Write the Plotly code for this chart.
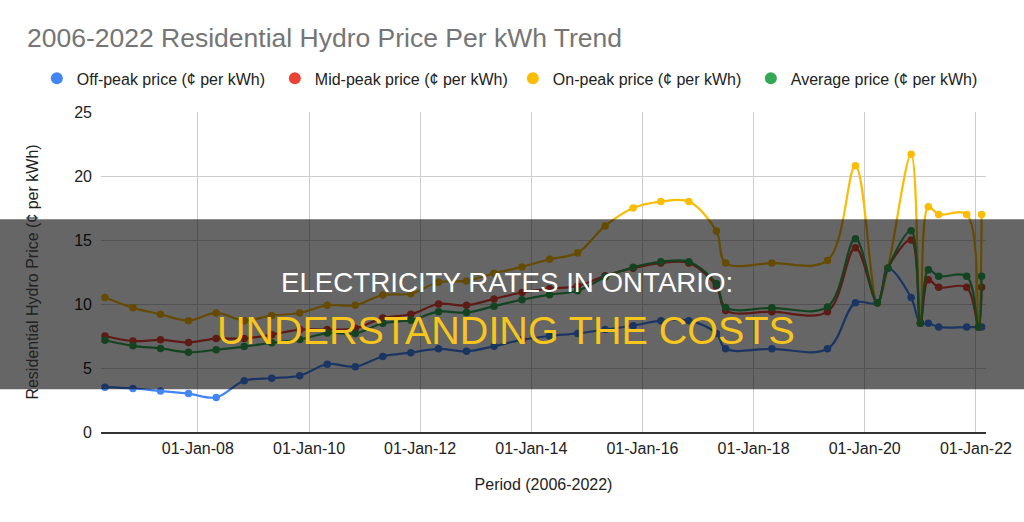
import plotly.graph_objects as go

dates = ["2006-05-01", "2006-11-01", "2007-05-01", "2007-11-01", "2008-05-01", "2008-11-01",
         "2009-05-01", "2009-11-01", "2010-05-01", "2010-11-01", "2011-05-01", "2011-11-01",
         "2012-05-01", "2012-11-01", "2013-05-01", "2013-11-01", "2014-05-01", "2014-11-01",
         "2015-05-01", "2015-11-01", "2016-05-01", "2016-11-01", "2017-05-01", "2017-07-01",
         "2018-05-01", "2019-05-01", "2019-11-01", "2020-03-24", "2020-06-01", "2020-11-01",
         "2021-01-01", "2021-02-22", "2021-05-01", "2021-11-01", "2022-01-18", "2022-02-07"]

off_peak = [3.5, 3.4, 3.2, 3.0, 2.7, 4.0, 4.2, 4.4, 5.3, 5.1, 5.9, 6.2,
            6.5, 6.3, 6.7, 7.2, 7.5, 7.7, 8.0, 8.3, 8.7, 8.7, 7.7, 6.5,
            6.5, 6.5, 10.1, 10.1, 12.8, 10.5, 8.5, 8.5, 8.2, 8.2, 8.2, 8.2]
mid_peak = [7.5, 7.1, 7.2, 7.0, 7.3, 7.3, 7.6, 8.0, 8.0, 8.1, 8.9, 9.2,
            10.0, 9.9, 10.4, 10.9, 11.2, 11.4, 12.2, 12.8, 13.2, 13.2, 11.4, 9.5,
            9.4, 9.4, 14.4, 10.1, 12.8, 15.0, 8.5, 11.9, 11.3, 11.3, 8.2, 11.3]
on_peak = [10.5, 9.7, 9.2, 8.7, 9.3, 8.7, 9.1, 9.3, 9.9, 9.9, 10.7, 10.8,
           11.7, 11.8, 12.4, 12.9, 13.5, 14.0, 16.1, 17.5, 18.0, 18.0, 15.7, 13.2,
           13.2, 13.4, 20.8, 10.1, 12.8, 21.7, 8.5, 17.6, 17.0, 17.0, 8.2, 17.0]
average = [7.17, 6.73, 6.53, 6.23, 6.43, 6.67, 6.97, 7.23, 7.73, 7.70, 8.50, 8.73,
           9.40, 9.33, 9.83, 10.33, 10.73, 11.03, 12.10, 12.87, 13.30, 13.30, 11.60, 9.73,
           9.70, 9.77, 15.10, 10.10, 12.80, 15.73, 8.50, 12.67, 12.17, 12.17, 8.20, 12.17]

series_names = ["Off-peak price (¢ per kWh)", "Mid-peak price (¢ per kWh)",
                "On-peak price (¢ per kWh)", "Average price (¢ per kWh)"]
series_values = [off_peak, mid_peak, on_peak, average]
colors = ["#4285F4", "#EA4335", "#FBBC04", "#34A853"]

title_text = "2006-2022 Residential Hydro Price Per kWh Trend"
band_line1 = "ELECTRICITY RATES IN ONTARIO:"
band_line2 = "UNDERSTANDING THE COSTS"

ARIAL = "Arial, Liberation Sans, sans-serif"

fig = go.Figure()
for name, vals, col in zip(series_names, series_values, colors):
    fig.add_trace(go.Scatter(
        x=dates, y=vals, name=name, mode="lines+markers",
        line=dict(color=col, width=2.2, shape="spline", smoothing=1),
        marker=dict(color=col, size=7.5),
        showlegend=False, hoverinfo="x+y"))
for name, col in zip(series_names, colors):
    fig.add_trace(go.Scatter(
        x=[None], y=[None], name=name, mode="markers",
        marker=dict(color=col, size=12), showlegend=True))

axis_font = dict(family=ARIAL, size=16, color="#222222")

fig.update_layout(
    width=1024, height=522,
    margin=dict(l=101, r=26, t=112, b=90, pad=0),
    paper_bgcolor="white", plot_bgcolor="white",
    font=axis_font,
    title=dict(text=title_text, x=27/1024, xanchor="left", xref="container",
               y=1 - 37.8/522, yanchor="middle", yref="container",
               font=dict(family=ARIAL, size=26.5, color="#757575")),
    legend=dict(orientation="h", x=-0.0725, xanchor="left", y=1.105, yanchor="middle",
                font=dict(family=ARIAL, size=16, color="#222222"),
                bgcolor="rgba(0,0,0,0)", itemsizing="trace",
                entrywidth=193, entrywidthmode="pixels"),
    xaxis=dict(type="date", range=["2006-04-05", "2022-03-08"],
               tick0="2008-01-01", dtick="M24", tickformat="%d-%b-%y",
               showgrid=True, gridcolor="#cccccc", gridwidth=1,
               showline=True, linecolor="#333333", linewidth=2,
               ticks="", ticklabelstandoff=1, zeroline=False,
               title=dict(text="Period (2006-2022)", standoff=23, font=axis_font),
               tickfont=axis_font),
    yaxis=dict(range=[0, 25], dtick=5, showgrid=True, gridcolor="#cccccc", gridwidth=1,
               zeroline=False, ticks="", ticklabelstandoff=8,
               title=dict(text="Residential Hydro Price (¢ per kWh)", standoff=31, font=axis_font),
               tickfont=axis_font),
)

fig.add_shape(type="rect", xref="paper", yref="paper",
              x0=-0.2, x1=1.2, y0=(431.7 - 389) / 320, y1=(431.7 - 219) / 320,
              fillcolor="rgba(0,0,0,0.6)", line=dict(width=0), layer="above")

fig.add_annotation(text=band_line1, xref="paper", yref="paper",
                   x=(512.5 - 101) / 897, y=(431.7 - 281.7) / 320,
                   xanchor="center", yanchor="middle", showarrow=False,
                   font=dict(family=ARIAL, size=27.7, color="#ffffff"))
fig.add_annotation(text=band_line2, xref="paper", yref="paper",
                   x=(511 - 101) / 897, y=(431.7 - 330) / 320,
                   xanchor="center", yanchor="middle", showarrow=False,
                   font=dict(family=ARIAL, size=39.5, color="#F8C51C"))

fig.write_html("out.html")
